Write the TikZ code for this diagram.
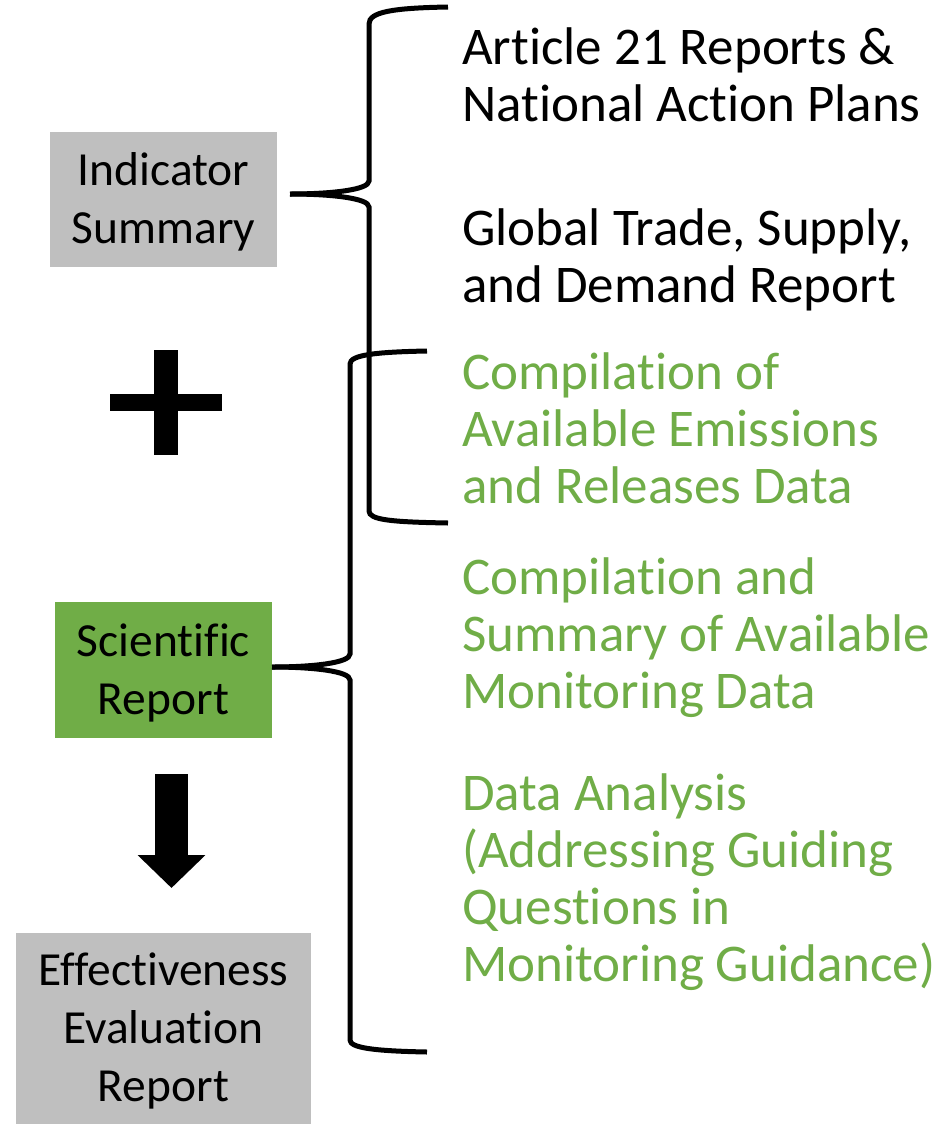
\documentclass[tikz,border=0pt]{standalone}
\usepackage{fontspec}
\setmainfont{Carlito}[Ligatures=NoCommon]
\usetikzlibrary{arrows.meta}
\definecolor{boxgray}{HTML}{BFBFBF}
\definecolor{accgreen}{HTML}{70AD47}
% struts that fix the line pitch of the two text sizes
\newcommand{\rstrut}{\rule[-11.45pt]{0pt}{57pt}}
\newcommand{\bxstrut}{\rule[-13.7pt]{0pt}{58pt}}
\tikzset{
  box/.style={inner sep=0pt, align=center, font=\fontsize{47.5pt}{58pt}\selectfont},
  itemtext/.style={anchor=north west, inner sep=0pt, align=left, font=\fontsize{53pt}{57pt}\selectfont},
  brace/.style={line width=5pt, line cap=butt},
}
\begin{document}
\begin{tikzpicture}[x=1pt,y=-1pt]
\useasboundingbox (0,0) rectangle (950,1125);

% left column: report boxes
\node[box, fill=boxgray, minimum width=227pt, minimum height=135pt] (ind) at (163.5,199.5)
  {\bxstrut Indicator\\\bxstrut Summary};
\node[box, fill=accgreen, minimum width=217pt, minimum height=136pt] (sci) at (163.5,670)
  {\bxstrut Scientific\\\bxstrut Report};
\node[box, fill=boxgray, minimum width=295pt, minimum height=191pt] (eff) at (163.5,1028.5)
  {\bxstrut Effectiveness\\\bxstrut Evaluation\\\bxstrut Report};

% plus sign
\fill (110,394) rectangle (222,411);
\fill (154,350) rectangle (178,455);

% down arrow
\coordinate (arrtop) at (171.5,774);
\coordinate (arrtip) at (171.5,888);
\draw[line width=33pt, -{Triangle[length=33pt,width=66pt]}] (arrtop) -- (arrtip);

% right column: inputs
\node[itemtext] (art) at (462,18.45)
  {\rstrut Article 21 Reports \&\\\rstrut National Action Plans};
\node[itemtext] (trade) at (462,199.45)
  {\rstrut Global Trade, Supply,\\\rstrut and Demand Report};
\node[itemtext, text=accgreen] (emis) at (462,343.45)
  {\rstrut Compilation of\\\rstrut Available Emissions\\\rstrut and Releases Data};
\node[itemtext, text=accgreen] (mon) at (462,548.45)
  {\rstrut Compilation and\\\rstrut Summary of Available\\\rstrut Monitoring Data};
\node[itemtext, text=accgreen] (ana) at (462,764.45)
  {\rstrut Data Analysis\\\rstrut (Addressing Guiding\\\rstrut Questions in\\\rstrut Monitoring Guidance)};

% brace gathering the indicator inputs
\coordinate (b1top) at (448,7);
\coordinate (b1tip) at (290,194);
\coordinate (b1bot) at (448,523);
\draw[brace] (b1tip) .. controls (330,194) and (369,190) .. (369,181) -- (369,24)
  .. controls (369,12) and (392,8) .. (b1top);
\draw[brace] (b1tip) .. controls (330,194) and (369,198) .. (369,207) -- (369,511)
  .. controls (369,520) and (392,522) .. (b1bot);

% brace gathering the scientific inputs
\coordinate (b2top) at (427,351);
\coordinate (b2tip) at (272,667);
\coordinate (b2bot) at (427,1052);
\draw[brace] (b2tip) .. controls (312,667) and (350,663) .. (350,654) -- (350,364)
  .. controls (350,355) and (375,352) .. (b2top);
\draw[brace] (b2tip) .. controls (312,667) and (350,671) .. (350,680) -- (350,1040)
  .. controls (350,1048) and (375,1051) .. (b2bot);
\end{tikzpicture}
\end{document}
